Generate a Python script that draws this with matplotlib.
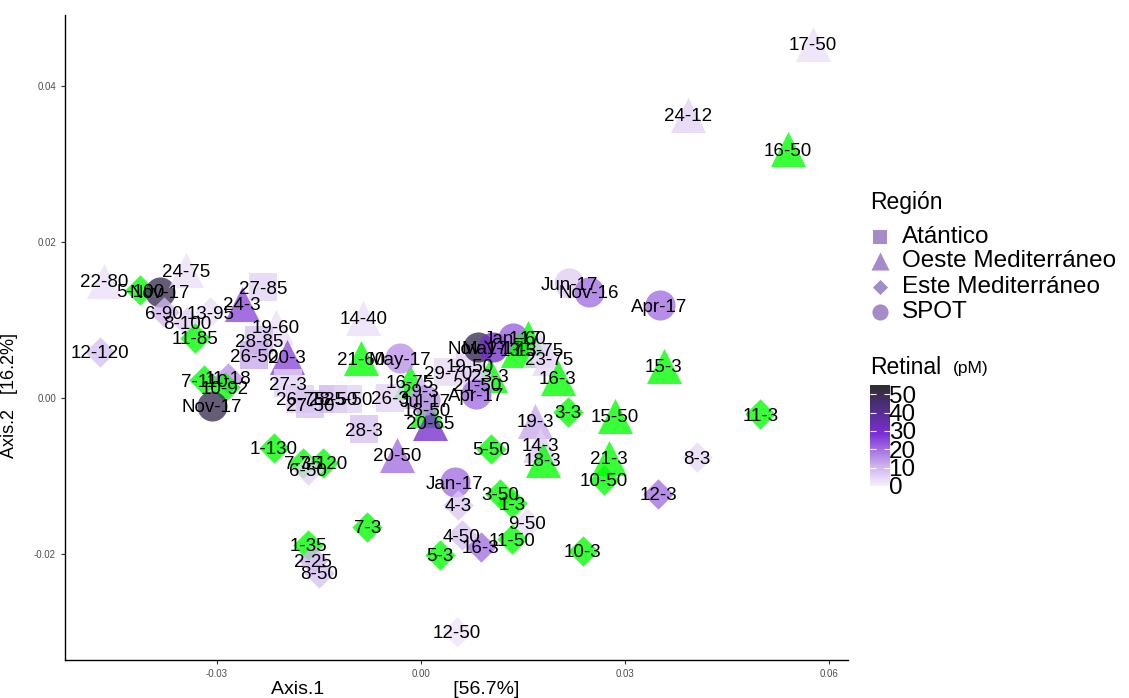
import numpy as np
import matplotlib.pyplot as plt
from matplotlib.colors import LinearSegmentedColormap, Normalize
import matplotlib as mpl

plt.rcParams['font.family'] = ['Liberation Sans', 'DejaVu Sans']

# sample labels, ordination coordinates, region and retinal (pM); nan = no data
labels = ["17-50", "24-12", "16-50", "Jun-17", "Nov-16", "Apr-17", "15-3", "11-3", "8-3", "12-3",
          "21-3", "10-50", "15-50", "10-3", "3-3", "19-3", "14-3", "18-3", "5-50", "Jan-17",
          "4-3", "3-50", "1-3", "9-50", "11-50", "4-50", "16-3", "5-3", "12-50", "7-3",
          "1-35", "2-25", "8-50", "1-130", "7-35", "7-120", "6-50", "20-50", "28-3", "18-50",
          "20-65", "16-75", "29-3", "26-3", "Jul-17", "29-70", "19-50", "23-3", "21-50", "Apr-17",
          "May-17", "21-60", "14-40", "Nov-17", "May-17", "Jan-17", "1-60", "13-3", "15-75", "23-75",
          "16-3", "22-80", "5-100", "Nov-17", "24-75", "6-90", "13-95", "8-100", "11-85", "24-3",
          "27-85", "19-60", "28-85", "26-50", "20-3", "27-3", "12-120", "7-110", "11-18", "10-92",
          "Nov-17", "26-75", "27-50", "28-50", "25-50"]
axis1 = [0.0576, 0.0393, 0.0540, 0.0218, 0.0247, 0.0351, 0.0357, 0.0499, 0.0406, 0.0349,
         0.0276, 0.0269, 0.0285, 0.0238, 0.0216, 0.0168, 0.0175, 0.0179, 0.0103, 0.0050,
         0.0054, 0.0116, 0.0134, 0.0156, 0.0134, 0.0060, 0.0088, 0.0028, 0.0053, -0.0079,
         -0.0166, -0.0159, -0.0150, -0.0216, -0.0174, -0.0144, -0.0166, -0.0035, -0.0084, 0.0009,
         0.0013, -0.0016, -0.0001, -0.0046, 0.0006, 0.0040, 0.0072, 0.0101, 0.0082, 0.0081,
         -0.0031, -0.0088, -0.0085, 0.0084, 0.0106, 0.0135, 0.0157, 0.0143, 0.0175, 0.0188,
         0.0201, -0.0466, -0.0413, -0.0384, -0.0346, -0.0378, -0.0310, -0.0344, -0.0332, -0.0263,
         -0.0232, -0.0213, -0.0238, -0.0246, -0.0197, -0.0196, -0.0472, -0.0319, -0.0284, -0.0288,
         -0.0307, -0.0178, -0.0163, -0.0129, -0.0107]
axis2 = [0.0454, 0.0363, 0.0319, 0.0147, 0.0136, 0.0119, 0.0041, -0.0021, -0.0076, -0.0123,
         -0.0077, -0.0105, -0.0023, -0.0196, -0.0018, -0.0029, -0.0060, -0.0079, -0.0065, -0.0108,
         -0.0137, -0.0123, -0.0135, -0.0160, -0.0181, -0.0176, -0.0191, -0.0201, -0.0300, -0.0165,
         -0.0188, -0.0208, -0.0224, -0.0064, -0.0083, -0.0083, -0.0092, -0.0073, -0.0040, -0.0015,
         -0.0032, 0.0021, 0.0009, 0.0000, -0.0003, 0.0033, 0.0041, 0.0029, 0.0017, 0.0005,
         0.0051, 0.0051, 0.0103, 0.0065, 0.0065, 0.0077, 0.0077, 0.0062, 0.0062, 0.0051,
         0.0026, 0.0150, 0.0138, 0.0136, 0.0164, 0.0110, 0.0110, 0.0097, 0.0077, 0.0121,
         0.0142, 0.0091, 0.0074, 0.0055, 0.0053, 0.0019, 0.0059, 0.0023, 0.0026, 0.0014,
         -0.0010, -0.0001, -0.0008, -0.0001, -0.0001]
region = ["O", "O", "O", "S", "S", "S", "O", "E", "E", "E",
          "O", "E", "O", "E", "E", "O", "O", "O", "E", "S",
          "E", "E", "E", "E", "E", "E", "E", "E", "E", "E",
          "E", "E", "E", "E", "E", "E", "E", "O", "A", "O",
          "O", "O", "O", "A", "S", "A", "A", "O", "A", "S",
          "S", "O", "O", "S", "S", "S", "O", "O", "O", "O",
          "O", "O", "E", "S", "O", "E", "E", "E", "E", "O",
          "A", "O", "A", "A", "O", "A", "E", "E", "E", "E",
          "S", "A", "A", "A", "A"]
nan = np.nan
retinal = [3, 5, nan, 6, 20, 20, nan, nan, 4, 20,
           nan, nan, nan, nan, nan, 12, 6, nan, nan, 20,
           7, nan, nan, 3, nan, 8, 20, nan, 2, nan,
           nan, 10, 8, nan, nan, nan, 5, 20, 8, nan,
           30, nan, 10, 5, 15, 4, 5, nan, 6, 20,
           15, nan, 3, 50, 30, 22, nan, nan, 5, 4,
           nan, 3, nan, 50, 3, 10, 3, 6, nan, 25,
           5, 3, 8, 12, 25, 5, 8, nan, 15, nan,
           50, 6, 8, 10, 5]

region_names = {"A": "Atántico", "O": "Oeste Mediterráneo", "E": "Este Mediterráneo", "S": "SPOT"}
markers = {"A": "s", "O": "^", "E": "D", "S": "o"}
sizes = {"A": 380, "O": 640, "E": 240, "S": 470}

cmap = LinearSegmentedColormap.from_list(
    "ret", [(0, "#F6F0FB"), (0.2, "#CDB0EE"), (0.52, "#7A2ED4"), (0.78, "#4C2F80"), (1, "#2E2E30")])
norm = Normalize(vmin=0, vmax=55)

fig = plt.figure(figsize=(11.29, 6.98), dpi=100)
ax = fig.add_axes([65/1129, 1-660/698, (848-65)/1129, (660-15)/698])

for x, y, r, v in zip(axis1, axis2, region, retinal):
    c = "#00FF00" if np.isnan(v) else cmap(norm(v))
    ax.scatter(x, y, marker=markers[r], s=sizes[r], color=c, alpha=0.78,
               linewidths=0, zorder=2)

for x, y, t in zip(axis1, axis2, labels):
    ax.text(x, y, t, ha="center", va="center_baseline", fontsize=13.5, color="black", zorder=3)

ax.set_xlim(-0.05235, 0.0628)
ax.set_ylim(-0.0336, 0.0491)
ax.set_xticks([-0.03, 0.0, 0.03, 0.06])
ax.set_xticklabels(["-0.03", "0.00", "0.03", "0.06"])
ax.set_yticks([-0.02, 0.0, 0.02, 0.04])
ax.set_yticklabels(["-0.02", "0.00", "0.02", "0.04"])
ax.tick_params(labelsize=7, colors="#333333", labelcolor="#4D4D4D", length=3, width=0.8)
for s in ["top", "right"]:
    ax.spines[s].set_visible(False)
for s in ["left", "bottom"]:
    ax.spines[s].set_linewidth(1.0)

ax.set_xlabel("Axis.1" + " " * 24 + "[56.7%]", fontsize=14)
ax.set_ylabel("Axis.2   [16.2%]", fontsize=13)
ax.xaxis.set_label_coords((395-65)/(848-65), -0.033)
ax.yaxis.set_label_coords(-0.06, (660-395)/(660-15))

# legend (drawn in pixel space)
lax = fig.add_axes([0, 0, 1, 1], facecolor="none")
lax.set_xlim(0, 1129)
lax.set_ylim(698, 0)
lax.axis("off")
lax.text(870, 202, "Región", fontsize=16.5, va="center", ha="left")
leg_items = ["A", "O", "E", "S"]
leg_y = [237, 261, 287, 312]
leg_sizes = {"A": 90, "O": 170, "E": 60, "S": 135}
for k, yy in zip(leg_items, leg_y):
    lax.scatter(880, yy, marker=markers[k], s=leg_sizes[k], color="#A58BC8", linewidths=0)
    lax.text(902, yy, region_names[k], fontsize=17.5, va="center", ha="left")
lax.text(870, 367, "Retinal", fontsize=16.5, va="center", ha="left")
lax.text(953, 369, "(pM)", fontsize=12.5, va="center", ha="left")

cax = fig.add_axes([870/1129, 1-486/698, 20/1129, 101/698])
cb = mpl.colorbar.ColorbarBase(cax, cmap=cmap, norm=norm, orientation="vertical")
cb.outline.set_visible(False)
cb.set_ticks([0, 10, 20, 30, 40, 50])
cax.tick_params(axis="y", direction="in", length=4, color="white", left=True, right=True,
                labelsize=17.5, pad=-1)

fig.savefig("out.png", dpi=100)
